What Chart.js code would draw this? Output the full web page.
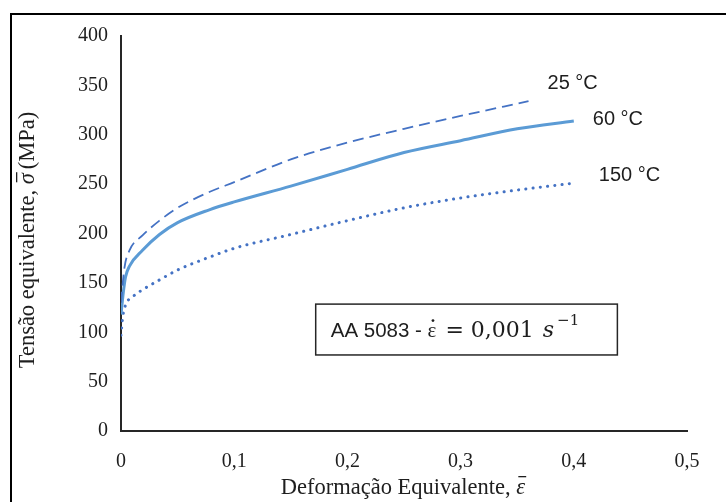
<!DOCTYPE html>
<html>
<head>
<meta charset="utf-8">
<script src="https://cdn.jsdelivr.net/npm/chart.js@4"></script>
<style>
  body { margin: 0; background: #fff; }
  #wrap { position: relative; width: 726px; height: 502px; }
</style>
</head>
<body>
<div id="wrap"><canvas id="curvas"></canvas></div>
<script>
// curvas tensão x deformação, AA 5083
const strain25 = [0, 0.003, 0.0075, 0.019, 0.034, 0.05, 0.078, 0.1, 0.15, 0.2, 0.25, 0.3, 0.36];
const stress25 = [130, 165, 183, 198, 213, 226, 242, 252, 275, 292, 306, 319, 334];

const strain60 = [0, 0.002, 0.004, 0.0075, 0.019, 0.034, 0.05, 0.078, 0.1, 0.15, 0.2, 0.25, 0.3, 0.35, 0.4];
const stress60 = [118, 140, 156, 167, 183, 199, 211, 224, 232, 248, 265, 282, 294, 306, 314];

const strain150 = [0, 0.0016, 0.0046, 0.0104, 0.019, 0.034, 0.05, 0.078, 0.1, 0.15, 0.2, 0.25, 0.3, 0.35, 0.4];
const stress150 = [97, 116, 129, 136, 143, 153, 163, 176, 185, 199, 213, 226, 236, 244, 251];

const curveLabels = ['25 °C', '60 °C', '150 °C'];
const xTicks = [0, 0.1, 0.2, 0.3, 0.4, 0.5];
const yTicks = [0, 50, 100, 150, 200, 250, 300, 350, 400];

function pts(xs, ys) {
  return xs.map((v, i) => ({ x: v, y: ys[i] }));
}

const serif = '"Liberation Serif", "Times New Roman", serif';
const sans = '"Liberation Sans", Arial, sans-serif';
const ink = '#1e1e1e';

// rótulos ao lado do fim de cada curva (deslocamento em px)
const labelOffsets = [[19, -18], [19, -1], [25, -8]];

// escreve pedaços de texto em sequência; mark = 'bar' (barra) ou 'dot' (ponto) sobre o símbolo
function drawRun(c, parts, x0, y0) {
  let cx = x0;
  parts.forEach(p => {
    c.font = p.font;
    const w = c.measureText(p.t).width;
    c.fillText(p.t, cx, y0 + (p.dy || 0));
    if (p.mark === 'bar') {
      c.fillRect(cx + 2, y0 - 12, w - 1, 1.3);
    } else if (p.mark === 'dot') {
      c.beginPath();
      c.arc(cx + w / 2 + 1, y0 - 11, 1.4, 0, Math.PI * 2);
      c.fill();
    }
    cx += w + (p.gap || 0);
  });
  return cx - x0;
}

function runWidth(c, parts) {
  return parts.reduce((s, p) => { c.font = p.font; return s + c.measureText(p.t).width + (p.gap || 0); }, 0);
}

const overlay = {
  id: 'overlay',
  beforeDraw(chart) {
    const c = chart.ctx;
    c.save();
    c.strokeStyle = '#000';
    c.lineWidth = 2;
    c.beginPath();
    c.moveTo(11, 502);
    c.lineTo(11, 14);
    c.lineTo(726, 14);
    c.stroke();
    c.restore();
  },
  afterDraw(chart) {
    const c = chart.ctx;
    const { x, y } = chart.scales;
    c.save();
    c.fillStyle = ink;
    c.textBaseline = 'middle';
    c.textAlign = 'left';

    // título eixo y
    const tf = '22.5px ' + serif;
    const yParts = [
      { t: 'Tensão equivalente, ', font: tf },
      { t: 'σ', font: 'italic ' + tf, mark: 'bar', gap: 4 },
      { t: '(MPa)', font: tf }
    ];
    c.save();
    c.translate(28, 240);
    c.rotate(-Math.PI / 2);
    drawRun(c, yParts, -runWidth(c, yParts) / 2, 0);
    c.restore();

    // título eixo x
    const xParts = [
      { t: 'Deformação Equivalente, ', font: tf },
      { t: 'ε', font: 'italic ' + tf, mark: 'bar' }
    ];
    drawRun(c, xParts, 403 - runWidth(c, xParts) / 2, 488);

    // rótulos das temperaturas
    c.font = '20px ' + sans;
    chart.data.datasets.forEach((ds, i) => {
      const last = ds.data[ds.data.length - 1];
      c.fillText(curveLabels[i], x.getPixelForValue(last.x) + labelOffsets[i][0],
        y.getPixelForValue(last.y) + labelOffsets[i][1]);
    });

    // caixa com a taxa de deformação
    const bx0 = x.getPixelForValue(0.172), bx1 = x.getPixelForValue(0.4385);
    const by0 = y.getPixelForValue(128.5), by1 = y.getPixelForValue(77);
    c.strokeStyle = '#262626';
    c.lineWidth = 1.5;
    c.strokeRect(bx0, by0, bx1 - bx0, by1 - by0);
    const mf = '"DejaVu Serif", serif';
    const boxParts = [
      { t: 'AA 5083 - ', font: '20.5px ' + sans },
      { t: 'ε', font: '21px ' + serif, mark: 'dot', gap: 2 },
      { t: ' = 0,001 ', font: '22px ' + mf, gap: 2 },
      { t: 's', font: 'italic 22px ' + mf, gap: 3 },
      { t: '−1', font: '15px ' + mf, dy: -10 }
    ];
    drawRun(c, boxParts, bx0 + 15, (by0 + by1) / 2 + 2);
    c.restore();
  }
};

new Chart(document.getElementById('curvas'), {
  type: 'line',
  data: {
    datasets: [
      {
        label: curveLabels[0],
        data: pts(strain25, stress25),
        borderColor: '#4472C4',
        borderWidth: 1.8,
        borderDash: [11, 6]
      },
      {
        label: curveLabels[1],
        data: pts(strain60, stress60),
        borderColor: '#5B9BD5',
        borderWidth: 3
      },
      {
        label: curveLabels[2],
        data: pts(strain150, stress150),
        borderColor: '#4472C4',
        borderWidth: 3,
        borderDash: [0.1, 7.2],
        borderCapStyle: 'round'
      }
    ]
  },
  options: {
    responsive: true,
    maintainAspectRatio: false,
    animation: false,
    elements: {
      point: { radius: 0 },
      line: { cubicInterpolationMode: 'monotone', fill: false }
    },
    layout: { padding: { top: 36, right: 39, left: 0, bottom: 0 } },
    plugins: {
      legend: { display: false },
      tooltip: { enabled: false }
    },
    scales: {
      x: {
        type: 'linear',
        min: 0,
        max: 0.5,
        afterFit(s) { s.height = 71; },
        afterBuildTicks(s) { s.ticks = xTicks.map(v => ({ value: v })); },
        grid: { display: false, drawTicks: false },
        border: { color: '#262626', width: 2 },
        ticks: {
          padding: 19,
          color: ink,
          font: { family: serif, size: 20 },
          callback: v => String(Math.round(v * 10) / 10).replace('.', ',')
        }
      },
      y: {
        min: 0,
        max: 400,
        afterFit(s) { s.width = 121; },
        afterBuildTicks(s) { s.ticks = yTicks.map(v => ({ value: v })); },
        grid: { display: false, drawTicks: false },
        border: { color: '#262626', width: 2 },
        ticks: {
          padding: 13,
          color: ink,
          font: { family: serif, size: 20 }
        }
      }
    }
  },
  plugins: [overlay]
});
</script>
</body>
</html>
